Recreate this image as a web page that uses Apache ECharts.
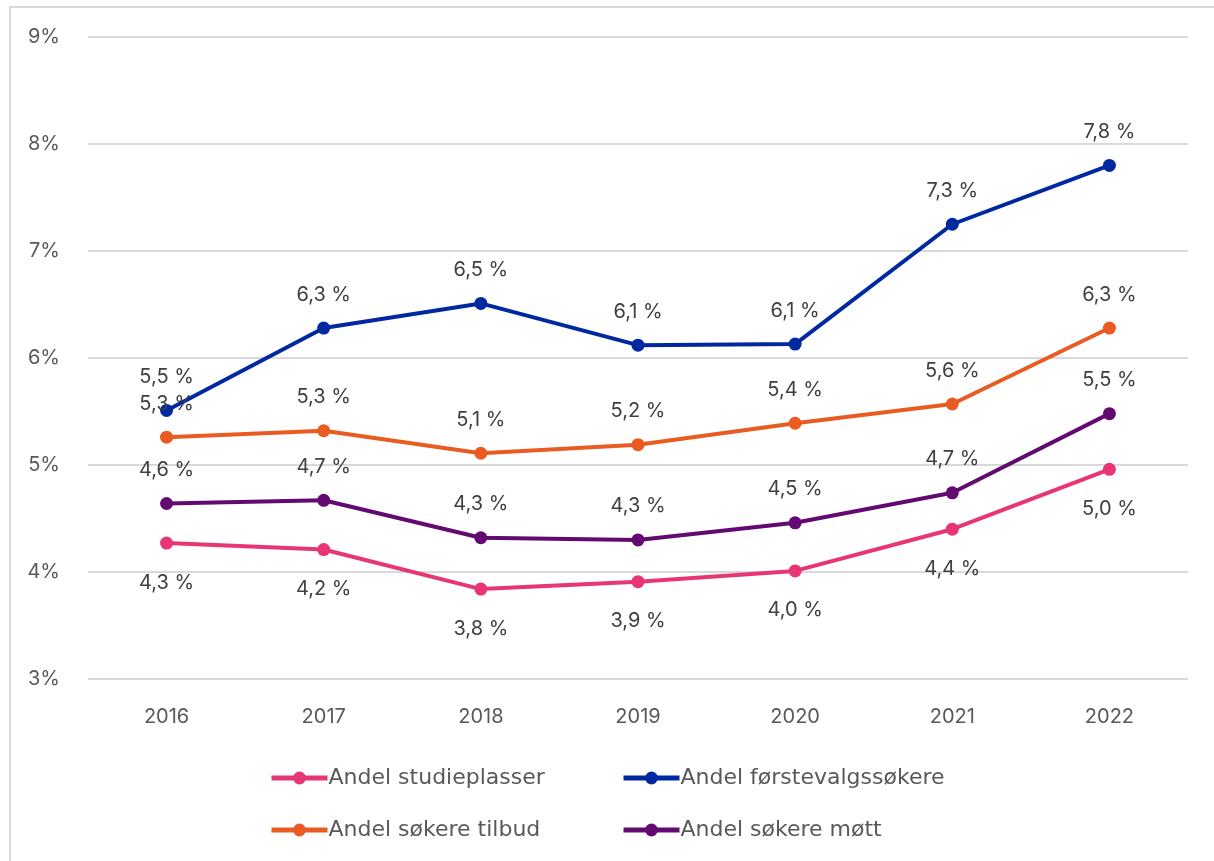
<!DOCTYPE html>
<html>
<head>
<meta charset="utf-8">
<script src="https://cdn.jsdelivr.net/npm/echarts@6/dist/echarts.min.js"></script>
<style>
  html, body { margin: 0; padding: 0; background: #fff; }
  #frame { position: absolute; left: 9px; top: 6px; width: 1205px; height: 855px;
    border-top: 2px solid #d9d9d9; border-left: 2px solid #d9d9d9; box-sizing: border-box; }
  #chart { position: absolute; left: 0; top: 0; width: 1214px; height: 861px; }
</style>
</head>
<body>
<div id="frame"></div>
<div id="chart"></div>
<script>
  const years = ['2016', '2017', '2018', '2019', '2020', '2021', '2022']
  const studieplasser = [4.27, 4.21, 3.84, 3.91, 4.01, 4.40, 4.96]
  const forstevalg = [5.51, 6.28, 6.51, 6.12, 6.13, 7.25, 7.80]
  const tilbud = [5.26, 5.32, 5.11, 5.19, 5.39, 5.57, 6.28]
  const mott = [4.64, 4.67, 4.32, 4.30, 4.46, 4.74, 5.48]

  const fontFamily = 'Inter, "Noto Sans", sans-serif'
  const textColor = '#595959'

  function makeSeries(name, data, color, pos) {
    return {
      name: name,
      type: 'line',
      data: data,
      symbol: 'circle',
      symbolSize: 13,
      itemStyle: { color: color },
      lineStyle: { color: color, width: 4 },
      label: {
        show: true,
        position: pos,
        distance: pos === 'top' ? 17 : 23,
        color: '#404040',
        fontSize: 20,
        fontFamily: fontFamily,
        formatter: p => p.value.toFixed(1).replace('.', ',') + ' %'
      }
    }
  }

  function legendAt(name, left, top) {
    return {
      data: [name],
      left: left,
      top: top,
      itemWidth: 56,
      itemHeight: 16,
      itemGap: 0,
      lineStyle: { width: 5 },
      textStyle: { fontSize: 22, color: textColor, fontFamily: '"DejaVu Sans", sans-serif', padding: [0, 0, 0, -4] }
    }
  }

  const chart = echarts.init(document.getElementById('chart'))
  chart.setOption({
    animation: false,
    grid: { left: 88, right: 26, top: 37, bottom: 182 },
    legend: [
      legendAt('Andel studieplasser', 264, 762),
      legendAt('Andel førstevalgssøkere', 616, 762),
      legendAt('Andel søkere tilbud', 264, 814),
      legendAt('Andel søkere møtt', 616, 814)
    ],
    xAxis: {
      type: 'category',
      data: years,
      axisLine: { show: false },
      axisTick: { show: false },
      axisLabel: { fontSize: 20, color: textColor, fontFamily: fontFamily, margin: 28 }
    },
    yAxis: {
      type: 'value',
      min: 3,
      max: 9,
      interval: 1,
      axisLine: { show: false },
      axisTick: { show: false },
      splitLine: { lineStyle: { color: '#d9d9d9', width: 2 } },
      axisLabel: {
        fontSize: 20, color: textColor, fontFamily: fontFamily, margin: 28,
        formatter: v => v + '%'
      }
    },
    series: [
      makeSeries('Andel studieplasser', studieplasser, '#E83576', 'bottom'),
      makeSeries('Andel førstevalgssøkere', forstevalg, '#0028A0', 'top'),
      makeSeries('Andel søkere tilbud', tilbud, '#EA5B21', 'top'),
      makeSeries('Andel søkere møtt', mott, '#630A72', 'top')
    ]
  })
</script>
</body>
</html>
